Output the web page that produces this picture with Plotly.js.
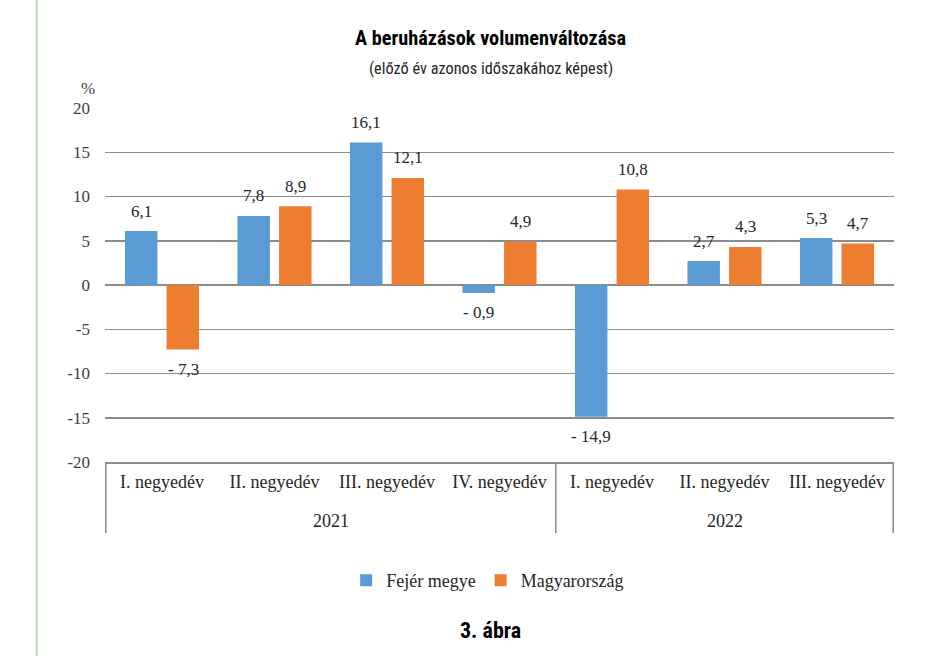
<!DOCTYPE html>
<html>
<head>
<meta charset="utf-8">
<script src="https://cdn.plot.ly/plotly-3.0.1.min.js"></script>
<style>
html,body{margin:0;padding:0;background:#fff;}
#chart{width:931px;height:656px;}
</style>
</head>
<body>
<div id="chart"></div>
<script>
// ---- data ----
var years = ["2021","2021","2021","2021","2022","2022","2022"];
var quarters = ["I. negyedév","II. negyedév","III. negyedév","IV. negyedév","I. negyedév","II. negyedév","III. negyedév"];
var fejer = [6.1, 7.8, 16.1, -0.9, -14.9, 2.7, 5.3];
var magyar = [-7.3, 8.9, 12.1, 4.9, 10.8, 4.3, 4.7];
var seriesNames = ["Fejér megye", "Magyarország"];
var yTicks = [20, 15, 10, 5, 0, -5, -10, -15, -20];

var serif = "Liberation Serif, Times New Roman, serif";
var cond = "Roboto Condensed, Roboto, sans-serif";
var gridCol = '#8c8c8c';

function fmt(v){
  var s = Math.abs(v).toFixed(1).replace('.', ',');
  return v < 0 ? '- ' + s : s;
}

// unique category keys (year + quarter), displayed as the quarter name
var cats = years.map(function(y, i){ return y + ' ' + quarters[i]; });

var traces = [
  {type:'bar', name:seriesNames[0], x:cats, y:fejer,
   marker:{color:'#5b9bd5'}, hoverinfo:'y'},
  {type:'bar', name:seriesNames[1], x:cats, y:magyar,
   marker:{color:'#ed7d31'}, hoverinfo:'y'}
];

var annotations = [];
[fejer, magyar].forEach(function(arr, si){
  arr.forEach(function(v, i){
    annotations.push({
      xref:'x', yref:'y', x:cats[i], y:v, text:fmt(v), showarrow:false,
      xshift: si === 0 ? -21 : 21, yshift: v >= 0 ? 20 : -20,
      xanchor:'center', yanchor:'middle',
      font:{family:serif, size:17, color:'#262626'}
    });
  });
});

// year group labels and dividers
var shapes = [];
var groups = [];
years.forEach(function(y, i){
  if (!groups.length || groups[groups.length-1].year !== y) groups.push({year:y, start:i, end:i});
  else groups[groups.length-1].end = i;
});
groups.forEach(function(g, gi){
  annotations.push({xref:'x', yref:'paper', x:(g.start + g.end) / 2, y:0, yshift:-59,
    text:g.year, showarrow:false, xanchor:'center', yanchor:'middle',
    font:{family:serif, size:18, color:'#262626'}});
  if (gi === 0) shapes.push({type:'line', xref:'x', yref:'paper', x0:g.start - 0.5, x1:g.start - 0.5,
    y0:0, y1:-0.2006, line:{color:gridCol, width:1.5}});
  shapes.push({type:'line', xref:'x', yref:'paper', x0:g.end + 0.5, x1:g.end + 0.5,
    y0:0, y1:-0.2006, line:{color:gridCol, width:1.5}});
});

annotations.push({xref:'paper', yref:'paper', x:0.489, y:1, yshift:70, text:'<b>A beruházások volumenváltozása</b>',
  showarrow:false, xanchor:'center', yanchor:'middle', font:{family:cond, size:20.3, color:'#000'}});
annotations.push({xref:'paper', yref:'paper', x:0.489, y:1, yshift:40, text:'(előző év azonos időszakához képest)',
  showarrow:false, xanchor:'center', yanchor:'middle', font:{family:cond, size:16.3, color:'#262626'}});
annotations.push({xref:'paper', yref:'paper', x:0, xshift:-17, y:1, yshift:20, text:'%',
  showarrow:false, xanchor:'center', yanchor:'middle', font:{family:serif, size:17, color:'#404040'}});
annotations.push({xref:'paper', yref:'paper', x:0.489, y:0, yshift:-168, text:'<b>3. ábra</b>',
  showarrow:false, xanchor:'center', yanchor:'middle', font:{family:cond, size:22, color:'#000'}});

shapes.push({type:'line', xref:'paper', yref:'paper', x0:-0.0865, x1:-0.0865, y0:-0.6, y1:1.5,
  line:{color:'#b9d6b4', width:2}});

var layout = {
  width:931, height:656,
  margin:{l:105, r:37, t:108, b:194},
  paper_bgcolor:'#fff', plot_bgcolor:'#fff',
  barmode:'group', bargap:0.26, bargroupgap:0.22,
  showlegend:true,
  legend:{orientation:'h', x:0.485, xanchor:'center', y:-0.335, yanchor:'middle', yref:'paper',
    font:{family:serif, size:18, color:'#262626'}, traceorder:'normal', itemwidth:30},
  xaxis:{type:'category', tickvals:cats, ticktext:quarters, showgrid:false, showline:true,
    linecolor:gridCol, linewidth:1.5, ticks:'', ticklabelstandoff:3,
    tickfont:{family:serif, size:18, color:'#262626'}, zeroline:false},
  yaxis:{range:[-20,20], tickvals:yTicks, ticktext:yTicks.map(String), showgrid:true, gridcolor:gridCol, gridwidth:1.5,
    zeroline:false, showline:false, ticks:'', ticklabelstandoff:14,
    tickfont:{family:serif, size:17, color:'#404040'}},
  annotations:annotations,
  shapes:shapes
};

Plotly.newPlot('chart', traces, layout, {staticPlot:true, displayModeBar:false});
</script>
</body>
</html>
